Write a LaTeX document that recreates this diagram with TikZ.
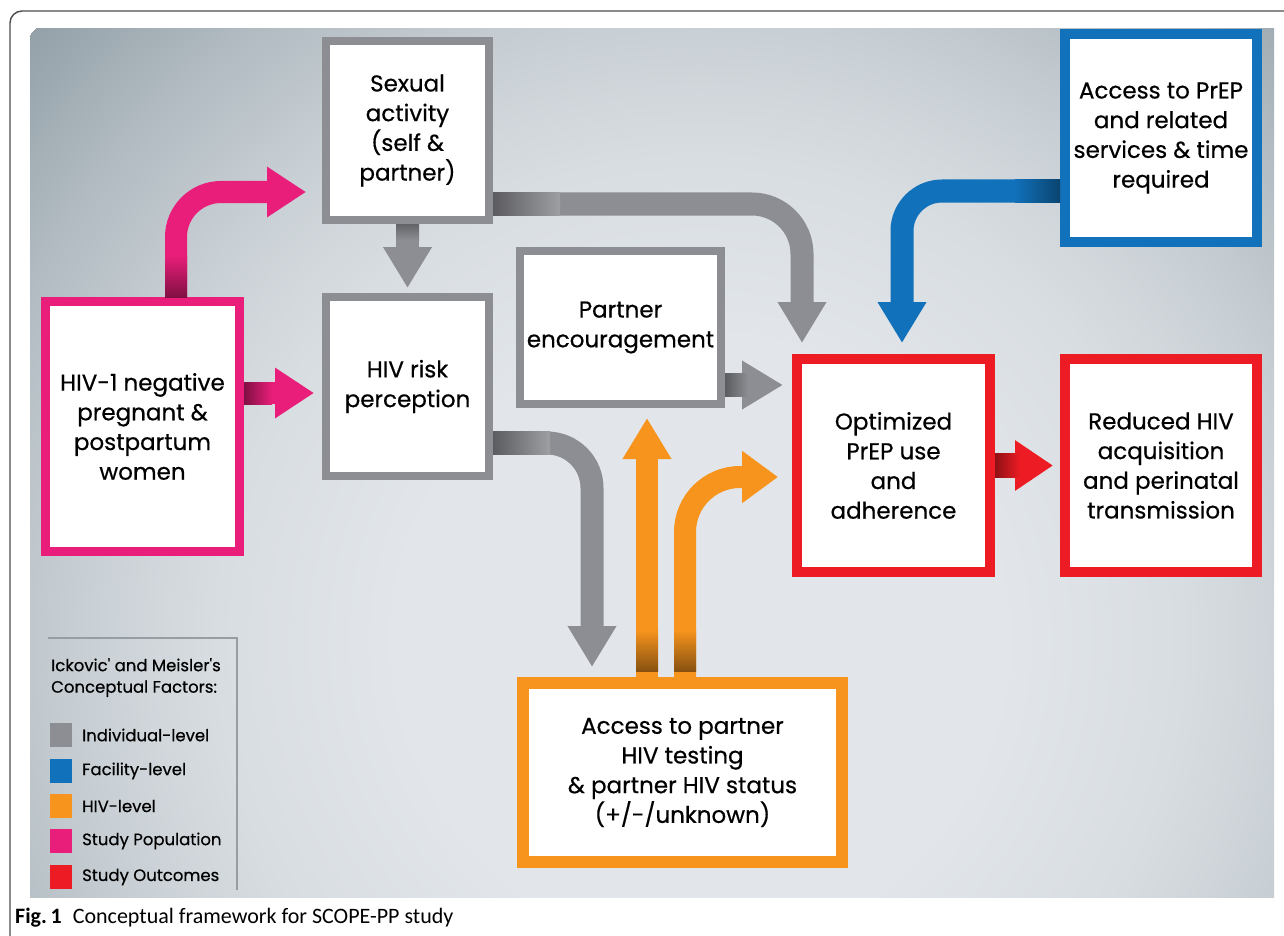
\documentclass[tikz,border=0pt]{standalone}
\usepackage{fontspec}
\setmainfont{Poppins}
\newfontfamily\boxfont{Poppins}[FakeBold=0.5]
\newfontfamily\capfont{Carlito}
\usetikzlibrary{arrows.meta}
\newlength{\du}
\setlength{\du}{1pt}
\definecolor{indgray}{RGB}{141,142,147}
\definecolor{facblue}{RGB}{17,113,186}
\definecolor{hivorange}{RGB}{247,148,29}
\definecolor{poppink}{RGB}{233,30,122}
\definecolor{outred}{RGB}{237,28,36}
\definecolor{bgin}{RGB}{226,230,234}
\definecolor{bgmid}{RGB}{216,221,225}
\definecolor{bgedge}{RGB}{200,207,212}
\definecolor{bgdark}{RGB}{176,186,192}
\definecolor{bgout}{RGB}{148,161,169}
\definecolor{legline}{RGB}{150,158,164}
\pgfdeclareradialshading{bgshade}{\pgfpoint{0bp}{0bp}}{color(0bp)=(bgin); color(300bp)=(bgin); color(480bp)=(bgmid); color(620bp)=(bgedge); color(760bp)=(bgdark); color(900bp)=(bgout)}
\tikzset{
  fbox/.style={draw, fill=white, line width=8\du, inner sep=0pt, align=center,
    font=\boxfont\fontsize{23}{29.7}\selectfont},
  farrow/.style={line width=23\du, -{Triangle[width=46pt,length=41pt]}, rounded corners=45\du},
  legsq/.style={minimum width=22\du, minimum height=24\du, inner sep=0pt},
  legtxt/.style={anchor=west, inner sep=0pt, align=left, font=\boxfont\fontsize{16.5}{21.5}\selectfont},
}

\begin{document}
\begin{tikzpicture}
\pgftransformxscale{1.000000}
\pgftransformyscale{-1.000000}
\useasboundingbox (0\du,0\du) rectangle (1284\du,936\du);
\clip (0\du,0\du) rectangle (1284\du,936\du);
% background and frame
\begin{scope}
\clip (30\du,29\du) rectangle (1274\du,897\du);
\node[inner sep=0pt] (bg) at (700\du,640\du) {\pgfuseshading{bgshade}};
\end{scope}
\draw[line width=1.4\du, black!70, rounded corners=12\du] (10\du,990\du) -- (10\du,11\du) -- (1320\du,11\du);

% boxes
\node[fbox, draw=indgray, minimum width=163\du, minimum height=179\du] (sex) at (407.5\du,130.5\du) {Sexual\\activity\\(self \&\\partner)};
\node[fbox, draw=indgray, minimum width=163\du, minimum height=179\du] (risk) at (407.5\du,386.5\du) {HIV risk\\perception};
\node[fbox, draw=poppink, line width=9\du, minimum width=194\du, minimum height=250\du] (pop) at (142.5\du,426.5\du) {HIV-1 negative\\pregnant \&\\postpartum\\women};
\node[fbox, draw=indgray, minimum width=201\du, minimum height=153\du] (enc) at (620.5\du,327.5\du) {Partner\\encouragement};
\node[fbox, draw=facblue, line width=10\du, minimum width=192\du, minimum height=208\du] (acc) at (1161\du,138\du) {Access to PrEP\\and related\\services \& time\\required};
\node[fbox, draw=outred, line width=10\du, minimum width=193\du, minimum height=213\du] (opt) at (893.5\du,465.5\du) {Optimized\\PrEP use\\and\\adherence};
\node[fbox, draw=outred, line width=10\du, minimum width=192\du, minimum height=213\du] (red) at (1161\du,465.5\du) {Reduced HIV\\acquisition\\and perinatal\\transmission};
\node[fbox, draw=hivorange, line width=12\du, minimum width=319\du, minimum height=179\du] (part) at (682.5\du,772.5\du) {Access to partner\\HIV testing\\\& partner HIV status\\(+/-/unknown)};

% bends of the arrows
\coordinate (cA) at (176\du,192\du);
\coordinate (cB) at (260\du,393\du);
\coordinate (cD) at (802\du,204\du);
\coordinate (cE) at (902\du,191\du);
\coordinate (cF) at (750\du,385\du);
\coordinate (cG) at (592\du,443\du);
\coordinate (cH) at (647\du,600\du);
\coordinate (cI) at (685\du,477\du);

% arrows
\draw[farrow, poppink, line width=22\du, -{Triangle[width=48pt,length=39pt]}, shorten >=16\du] (pop.north -| cA) |- (sex.west |- cA);
\draw[farrow, poppink, line width=22\du, -{Triangle[width=48pt,length=39pt]}, shorten >=8\du] (pop.east |- cB) -- (risk.west |- cB);
\draw[farrow, indgray, shorten >=5\du] (sex.south) -- (risk.north);
\draw[farrow, indgray, rounded corners=50\du, shorten >=11\du] (sex.east |- cD) -| (opt.north -| cD);
\draw[farrow, facblue, rounded corners=40\du, shorten >=11\du] (acc.west |- cE) -| (opt.north -| cE);
\draw[farrow, indgray, shorten >=9\du] (enc.east |- cF) -- (opt.west |- cF);
\draw[farrow, indgray, shorten >=10\du] (risk.east |- cG) -| (part.north -| cG);
\draw[farrow, hivorange, line width=22\du, shorten >=10\du] (part.north -| cH) -- (enc.south -| cH);
\draw[farrow, hivorange, line width=22\du, rounded corners=55\du, -{Triangle[width=50pt,length=36pt]}, shorten >=14\du] (part.north -| cI) |- (opt.west |- cI);
\draw[farrow, outred, line width=24\du, -{Triangle[width=48pt,length=38pt]}, shorten >=7\du] (opt.east) -- (red.west);

% darker roots of the arrows
\shade[top color=poppink, bottom color=poppink!55!black] (165\du,255\du) rectangle (187\du,297\du);
\shade[left color=poppink!55!black, right color=poppink] (244\du,382\du) rectangle (272\du,404\du);
\shade[top color=indgray!70!black, bottom color=indgray] (396\du,224\du) rectangle (419\du,240\du);
\shade[left color=indgray!65!black, right color=indgray!85!white] (493\du,192.5\du) rectangle (560\du,215.5\du);
\shade[left color=indgray!65!black, right color=indgray!85!white] (493\du,431.5\du) rectangle (550\du,454.5\du);
\shade[left color=indgray!65!black, right color=indgray] (725\du,373.5\du) rectangle (748\du,396.5\du);
\shade[left color=facblue, right color=facblue!60!black] (1015\du,179.5\du) rectangle (1060\du,202.5\du);
\shade[top color=hivorange, bottom color=hivorange!55!black] (636\du,630\du) rectangle (658\du,671\du);
\shade[top color=hivorange, bottom color=hivorange!55!black] (674\du,630\du) rectangle (696\du,671\du);
\shade[left color=outred!60!black, right color=outred] (995\du,453.5\du) rectangle (1020\du,477.5\du);

% legend
\draw[legline, line width=1.5\du] (48\du,638\du) -- (237\du,638\du) -- (237\du,890\du);
\node[legtxt] (legtitle) at (51\du,677.5\du) {Ickovic' and Meisler's\\Conceptual Factors:};
\node[legsq, fill=indgray] (sqind) at (61\du,735\du) {};
\node[legtxt] (lind) at (82\du,735\du) {Individual-level};
\node[legsq, fill=facblue] (sqfac) at (61\du,771\du) {};
\node[legtxt] (lfac) at (82\du,771\du) {Facility-level};
\node[legsq, fill=hivorange] (sqhiv) at (61\du,806\du) {};
\node[legtxt] (lhiv) at (82\du,806\du) {HIV-level};
\node[legsq, fill=poppink] (sqpop) at (61\du,841\du) {};
\node[legtxt] (lpop) at (82\du,841\du) {Study Population};
\node[legsq, fill=outred] (sqout) at (61\du,877\du) {};
\node[legtxt] (lout) at (82\du,877\du) {Study Outcomes};

% caption
\node[anchor=west, inner sep=0pt, font=\capfont\fontsize{22}{24}\selectfont] (cap) at (15\du,918\du) {\textbf{Fig.\,1}\enspace Conceptual framework for SCOPE-PP study};
\end{tikzpicture}
\end{document}
